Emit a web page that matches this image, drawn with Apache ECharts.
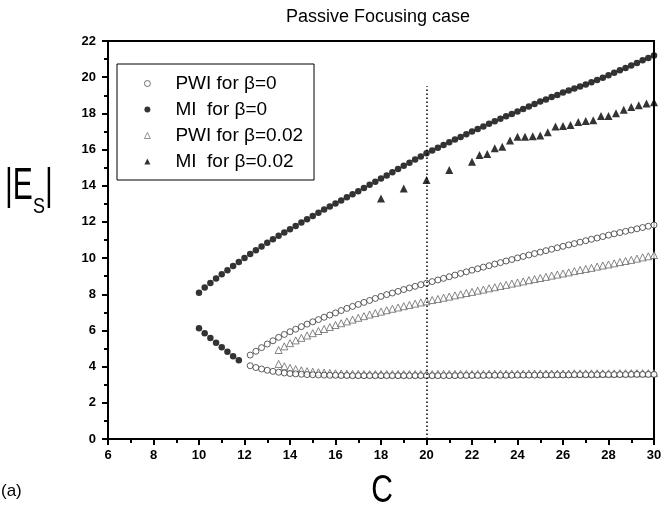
<!DOCTYPE html>
<html><head><meta charset="utf-8">
<script src="https://cdn.jsdelivr.net/npm/echarts@6/dist/echarts.min.js"></script>
<style>html,body{margin:0;padding:0;background:#fff}#c{width:665px;height:512px}</style>
</head><body><div id="c"></div>
<script>
// ---- data ----
const titleText = 'Passive Focusing case';
const seriesNames = ['PWI for \u03b2=0', 'MI  for \u03b2=0', 'PWI for \u03b2=0.02', 'MI  for \u03b2=0.02'];
const xTicks = {min: 6, max: 30, step: 2};
const yTicks = {min: 0, max: 22, step: 2};
const refLineC = 20, refLineTop = 19.5;

// MI, beta=0 : upper branch
const cMI0 = [10,10.25,10.5,10.75,11,11.25,11.5,11.75,12,12.25,12.5,12.75,13,13.25,13.5,13.75,14,14.25,14.5,14.75,15,15.25,15.5,15.75,16,16.25,16.5,16.75,17,17.25,17.5,17.75,18,18.25,18.5,18.75,19,19.25,19.5,19.75,20,20.25,20.5,20.75,21,21.25,21.5,21.75,22,22.25,22.5,22.75,23,23.25,23.5,23.75,24,24.25,24.5,24.75,25,25.25,25.5,25.75,26,26.25,26.5,26.75,27,27.25,27.5,27.75,28,28.25,28.5,28.75,29,29.25,29.5,29.75,30];
const miUpper0 = [8.09,8.38,8.63,8.87,9.1,9.33,9.56,9.78,10.0,10.22,10.43,10.64,10.85,11.04,11.23,11.42,11.6,11.78,11.97,12.15,12.33,12.5,12.68,12.85,13.02,13.19,13.36,13.53,13.7,13.87,14.05,14.22,14.4,14.57,14.75,14.92,15.1,15.27,15.45,15.62,15.8,15.95,16.1,16.25,16.4,16.55,16.7,16.85,17.0,17.14,17.28,17.42,17.56,17.7,17.84,17.97,18.1,18.24,18.38,18.52,18.65,18.77,18.9,19.02,19.15,19.26,19.38,19.49,19.6,19.72,19.85,19.97,20.1,20.24,20.38,20.51,20.65,20.79,20.93,21.06,21.2];
// MI, beta=0 : lower branch
const cMI0Low = [10,10.25,10.5,10.75,11,11.25,11.5,11.75];
const miLower0 = [6.12,5.85,5.58,5.32,5.07,4.82,4.58,4.35];

// PWI, beta=0
const cPWI0 = [12.25,12.5,12.75,13,13.25,13.5,13.75,14,14.25,14.5,14.75,15,15.25,15.5,15.75,16,16.25,16.5,16.75,17,17.25,17.5,17.75,18,18.25,18.5,18.75,19,19.25,19.5,19.75,20,20.25,20.5,20.75,21,21.25,21.5,21.75,22,22.25,22.5,22.75,23,23.25,23.5,23.75,24,24.25,24.5,24.75,25,25.25,25.5,25.75,26,26.25,26.5,26.75,27,27.25,27.5,27.75,28,28.25,28.5,28.75,29,29.25,29.5,29.75,30];
const pwiUpper0 = [4.64,4.85,5.05,5.25,5.43,5.62,5.78,5.93,6.07,6.21,6.35,6.48,6.6,6.73,6.85,6.97,7.1,7.22,7.33,7.44,7.55,7.66,7.77,7.88,7.98,8.07,8.16,8.26,8.35,8.44,8.53,8.61,8.7,8.79,8.88,8.97,9.06,9.15,9.24,9.33,9.41,9.5,9.58,9.67,9.75,9.84,9.92,10.01,10.09,10.17,10.25,10.33,10.41,10.49,10.57,10.65,10.73,10.8,10.88,10.96,11.04,11.11,11.19,11.27,11.34,11.41,11.48,11.55,11.62,11.69,11.76,11.83];
const pwiLower0 = [4.05,3.95,3.87,3.8,3.74,3.69,3.65,3.62,3.6,3.58,3.56,3.55,3.54,3.53,3.52,3.52,3.51,3.51,3.5,3.5,3.5,3.5,3.5,3.5,3.5,3.5,3.5,3.5,3.5,3.5,3.5,3.5,3.5,3.5,3.5,3.5,3.5,3.51,3.51,3.51,3.51,3.51,3.52,3.52,3.52,3.52,3.52,3.53,3.53,3.53,3.53,3.53,3.54,3.54,3.54,3.54,3.54,3.55,3.55,3.55,3.55,3.55,3.56,3.56,3.56,3.56,3.56,3.57,3.57,3.57,3.57,3.57];

// PWI, beta=0.02
const cPWI02 = [13.5,13.75,14,14.25,14.5,14.75,15,15.25,15.5,15.75,16,16.25,16.5,16.75,17,17.25,17.5,17.75,18,18.25,18.5,18.75,19,19.25,19.5,19.75,20,20.25,20.5,20.75,21,21.25,21.5,21.75,22,22.25,22.5,22.75,23,23.25,23.5,23.75,24,24.25,24.5,24.75,25,25.25,25.5,25.75,26,26.25,26.5,26.75,27,27.25,27.5,27.75,28,28.25,28.5,28.75,29,29.25,29.5,29.75,30];
const pwiUpper02 = [4.92,5.12,5.3,5.45,5.59,5.72,5.85,5.97,6.08,6.19,6.3,6.4,6.5,6.6,6.7,6.79,6.88,6.96,7.04,7.12,7.2,7.27,7.34,7.41,7.48,7.55,7.61,7.68,7.74,7.81,7.87,7.94,8.0,8.07,8.13,8.2,8.26,8.33,8.39,8.46,8.52,8.59,8.65,8.71,8.78,8.84,8.9,8.96,9.03,9.09,9.15,9.21,9.28,9.34,9.4,9.46,9.53,9.59,9.65,9.71,9.78,9.84,9.9,9.97,10.04,10.1,10.17];
const pwiLower02 = [4.15,4.02,3.93,3.86,3.8,3.75,3.72,3.69,3.67,3.65,3.63,3.62,3.61,3.6,3.6,3.59,3.59,3.59,3.59,3.59,3.59,3.59,3.59,3.59,3.59,3.59,3.59,3.59,3.6,3.6,3.6,3.6,3.6,3.6,3.6,3.6,3.6,3.61,3.61,3.61,3.61,3.61,3.61,3.61,3.62,3.62,3.62,3.62,3.62,3.62,3.62,3.62,3.63,3.63,3.63,3.63,3.63,3.63,3.63,3.63,3.64,3.64,3.64,3.64,3.64,3.64,3.64];

// MI, beta=0.02
const cMI02 = [18,19,20,21,22,22.33,22.67,23,23.33,23.67,24,24.33,24.67,25,25.33,25.67,26,26.33,26.67,27,27.33,27.67,28,28.33,28.67,29,29.33,29.67,30];
const mi02 = [13.3,13.85,14.32,14.87,15.33,15.7,15.75,16.07,16.16,16.5,16.71,16.71,16.74,16.78,16.95,17.28,17.3,17.35,17.52,17.58,17.62,17.85,17.86,18.0,18.2,18.35,18.45,18.55,18.62];

// ---- build ----
function pairs(xs, ys) {
  const n = Math.min(xs.length, ys.length), out = [];
  for (let i = 0; i < n; i++) out.push([xs[i], ys[i]]);
  return out;
}
const FONT = "'Liberation Sans', Arial, sans-serif";
const chart = echarts.init(document.getElementById('c'), null, {renderer: 'canvas'});

const axisCommon = {
  type: 'value',
  axisLine: {show: true, onZero: false, lineStyle: {color: '#000', width: 2}},
  axisTick: {show: true, inside: false, length: 6, lineStyle: {color: '#000', width: 2}},
  minorTick: {show: true, splitNumber: 2, length: 4, lineStyle: {color: '#000', width: 2}},
  splitLine: {show: false},
  axisLabel: {color: '#000', fontFamily: FONT, fontSize: 13, fontWeight: 'bold', margin: 10}
};

const option = {
  animation: false,
  backgroundColor: '#fff',
  title: {
    text: titleText, left: 286, top: 8, padding: 0,
    textStyle: {fontFamily: FONT, fontSize: 18, fontWeight: 'normal', color: '#000'}
  },
  grid: {left: 108, right: 11, top: 41, bottom: 73, show: true, borderColor: '#000', borderWidth: 2, backgroundColor: 'transparent'},
  xAxis: Object.assign({}, axisCommon, {min: xTicks.min, max: xTicks.max, interval: xTicks.step}),
  yAxis: Object.assign({}, axisCommon, {min: yTicks.min, max: yTicks.max, interval: yTicks.step,
    axisLabel: Object.assign({}, axisCommon.axisLabel, {margin: 12})}),
  legend: {
    orient: 'vertical', left: 117, top: 64, padding: [10, 11, 9, 27],
    itemWidth: 6, itemHeight: 6, itemGap: 7,
    borderColor: '#000', borderWidth: 1, backgroundColor: '#fff',
    textStyle: {fontFamily: FONT, fontSize: 19, color: '#000', padding: [0, 0, 0, 20]},
    data: [
      {name: seriesNames[0], icon: 'circle', itemStyle: {color: '#fff', borderColor: '#222', borderWidth: 0.8}},
      {name: seriesNames[1], icon: 'circle', itemStyle: {color: '#000'}},
      {name: seriesNames[2], icon: 'triangle', itemStyle: {color: '#fff', borderColor: '#555', borderWidth: 0.8}},
      {name: seriesNames[3], icon: 'triangle', itemStyle: {color: '#000'}}
    ]
  },
  series: [
    {
      name: seriesNames[2], type: 'scatter', symbol: 'triangle', symbolSize: 7,
      itemStyle: {color: '#fff', borderColor: '#555', borderWidth: 0.9},
      data: pairs(cPWI02, pwiUpper02).concat(pairs(cPWI02, pwiLower02)),
      z: 2
    },
    {
      name: seriesNames[0], type: 'scatter', symbol: 'circle', symbolSize: 6,
      itemStyle: {color: '#fff', borderColor: '#222', borderWidth: 0.9},
      data: pairs(cPWI0, pwiUpper0).concat(pairs(cPWI0, pwiLower0)),
      z: 3
    },
    {
      name: seriesNames[1], type: 'scatter', symbol: 'circle', symbolSize: 6.5,
      itemStyle: {color: '#000'},
      data: pairs(cMI0, miUpper0).concat(pairs(cMI0Low, miLower0)),
      z: 4,
      markLine: {
        silent: true, symbol: ['none', 'none'], label: {show: false},
        lineStyle: {type: [1.5, 2.5], color: '#000', width: 1.5},
        data: [[{coord: [refLineC, yTicks.min]}, {coord: [refLineC, refLineTop]}]]
      }
    },
    {
      name: seriesNames[3], type: 'scatter', symbol: 'triangle', symbolSize: 8,
      itemStyle: {color: '#000'},
      data: pairs(cMI02, mi02),
      z: 4
    }
  ],
  graphic: [
    {type: 'text', x: 5, y: 187, scaleY: 1.45,
      style: {text: '|E', font: "30px 'Liberation Sans', Arial, sans-serif", fill: '#000', textVerticalAlign: 'middle'}},
    {type: 'text', x: 33, y: 207, scaleY: 1.2,
      style: {text: 'S', font: "18px 'Liberation Sans', Arial, sans-serif", fill: '#000', textVerticalAlign: 'middle'}},
    {type: 'text', x: 45, y: 187, scaleY: 1.45,
      style: {text: '|', font: "30px 'Liberation Sans', Arial, sans-serif", fill: '#000', textVerticalAlign: 'middle'}},
    {type: 'text', x: 382, y: 491, scaleY: 1.3,
      style: {text: 'C', font: "30px 'Liberation Sans', Arial, sans-serif", fill: '#000', textAlign: 'center', textVerticalAlign: 'middle'}},
    {type: 'text', x: 1, y: 491,
      style: {text: '(a)', font: "17px 'Liberation Sans', Arial, sans-serif", fill: '#000', textVerticalAlign: 'middle'}}
  ]
};
chart.setOption(option);
</script>
</body></html>
